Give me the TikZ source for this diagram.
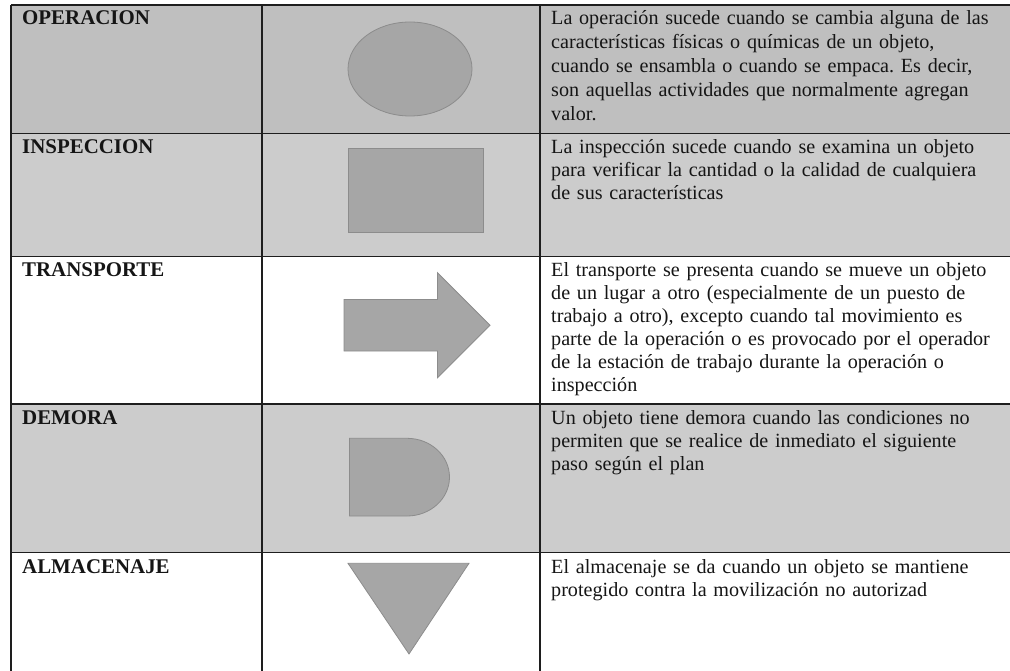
\documentclass[tikz,border=0pt]{standalone}
\usepackage{fontspec}
\setmainfont{Liberation Serif}
\usetikzlibrary{shapes.geometric}
\definecolor{rowA}{HTML}{BFBFBF}
\definecolor{rowB}{HTML}{CCCCCC}
\definecolor{symfill}{HTML}{A6A6A6}
\definecolor{symline}{HTML}{8C8C8C}
\definecolor{rulecol}{HTML}{1E1E1E}
\definecolor{textcol}{HTML}{151515}
\frenchspacing
\begin{document}
\begin{tikzpicture}[x=1pt,y=-1pt,
  rowlabel/.style={anchor=base west, inner sep=0pt, text=textcol, font=\fontsize{20.9}{23}\selectfont\bfseries},
  desc/.style={anchor=base west, inner sep=0pt, text=textcol, text width=470pt, align=left, font=\fontsize{20.15}{23}\selectfont},
  sym/.style={fill=symfill, draw=symline, line width=0.8pt},
  gridline/.style={draw=rulecol, line width=1.3pt}]
\useasboundingbox (0,0) rectangle (1010,671);
% row fills
\fill[rowA] (11,5) rectangle (1010,133.5);
\fill[rowB] (11,133.5) rectangle (1010,256.8);
\fill[rowB] (11,404) rectangle (1010,552.7);
% grid
\foreach \yy in {5,133.5,256.8,404,552.7} \draw[gridline] (11,\yy) -- (1010,\yy);
\foreach \xx in {11,262,540} \draw[gridline] (\xx,5) -- (\xx,671);
% labels
\node[rowlabel] (l1) at (22,25) {OPERACION};
\node[rowlabel] (l2) at (22,153.5) {INSPECCION};
\node[rowlabel] (l3) at (22,277) {TRANSPORTE};
\node[rowlabel] (l4) at (22,424) {DEMORA};
\node[rowlabel] (l5) at (22,573) {ALMACENAJE};
% symbols
\node[sym, ellipse, minimum width=124pt, minimum height=94pt, inner sep=0pt] (s1) at (410,69) {};
\node[sym, rectangle, minimum width=135pt, minimum height=84pt, inner sep=0pt] (s2) at (415.5,190) {};
\draw[sym] (344,299.5) -- (437.5,299.5) -- (437.5,272.7) -- (490,325.2) -- (437.5,377.7) -- (437.5,351) -- (344,351) -- cycle;
\draw[sym] (349.5,438.3) -- (407,438.3) arc[start angle=-90, end angle=90, x radius=42.5, y radius=38.85] -- (349.5,516) -- cycle;
\draw[sym] (348,563.3) -- (469,563.3) -- (409,654) -- cycle;
% descriptions
\node[desc, font=\fontsize{20.15}{24}\selectfont] (d1) at (551,25) {La operación sucede cuando se cambia alguna de las\\
características físicas o químicas de un objeto,\\
cuando se ensambla o cuando se empaca. Es decir,\\
son aquellas actividades que normalmente agregan\\
valor.};
\node[desc] (d2) at (551,153.5) {La inspección sucede cuando se examina un objeto\\
para verificar la cantidad o la calidad de cualquiera\\
de sus características};
\node[desc] (d3) at (551,277) {El transporte se presenta cuando se mueve un objeto\\
de un lugar a otro (especialmente de un puesto de\\
trabajo a otro), excepto cuando tal movimiento es\\
parte de la operación o es provocado por el operador\\
de la estación de trabajo durante la operación o\\
inspección};
\node[desc] (d4) at (551,424) {Un objeto tiene demora cuando las condiciones no\\
permiten que se realice de inmediato el siguiente\\
paso según el plan};
\node[desc] (d5) at (551,573) {El almacenaje se da cuando un objeto se mantiene\\
protegido contra la movilización no autorizad};
\end{tikzpicture}
\end{document}
